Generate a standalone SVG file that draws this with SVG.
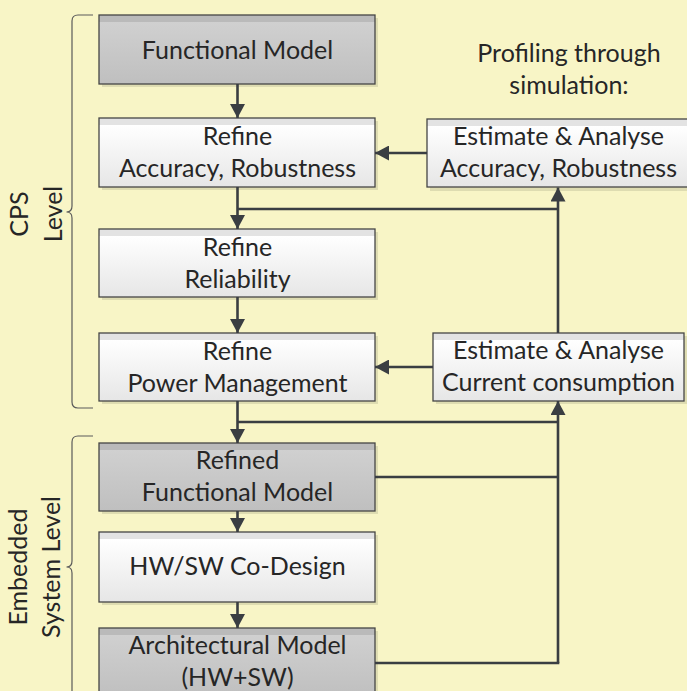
<svg xmlns="http://www.w3.org/2000/svg" width="687" height="691" viewBox="0 0 687 691">
<defs>
<linearGradient id="gw" x1="0" y1="0" x2="0" y2="1">
<stop offset="0" stop-color="#E3E3E3"/><stop offset="0.1" stop-color="#E3E3E3"/><stop offset="0.1" stop-color="#FFFFFF"/><stop offset="1" stop-color="#E6E6E6"/>
</linearGradient>
<linearGradient id="gg" x1="0" y1="0" x2="0" y2="1">
<stop offset="0" stop-color="#BABABA"/><stop offset="0.1" stop-color="#BABABA"/><stop offset="0.1" stop-color="#D0D0D0"/><stop offset="1" stop-color="#BFBFBF"/>
</linearGradient>
<marker id="ah" viewBox="0 0 14 15" refX="14" refY="7.5" markerWidth="14" markerHeight="15" markerUnits="userSpaceOnUse" orient="auto">
<path d="M0,0 L14,7.5 L0,15 Z" fill="#3A3E42"/>
</marker>
<style>
.box{stroke:#454545;stroke-width:1.3}
.w{fill:url(#gw)}
.g{fill:url(#gg)}
.sh{fill:#000;fill-opacity:0.1}
text{font-family:Lato,"Liberation Sans",sans-serif;font-size:25px;fill:#262626;text-anchor:middle}
.c{fill:none;stroke:#3A3E42;stroke-width:2.6}
.a{marker-end:url(#ah)}
.br{fill:none;stroke:#5A5A5A;stroke-width:1.2}
</style>
</defs>
<rect width="687" height="691" fill="#F8F5C6"/>

<g id="braces">
<path class="br" d="M93,15 H78 Q72,15 72,21 V206 Q72,212 66.5,212 Q72,212 72,218 V402 Q72,408 78,408 H93"/>
<path class="br" d="M93,436 H78 Q72,436 72,442 V561 Q72,567 66.5,567 Q72,567 72,573 V692 Q72,698 78,698 H93"/>
</g>
<g id="labels">
<text transform="translate(28,214) rotate(-90)">CPS</text>
<text transform="translate(62,214) rotate(-90)">Level</text>
<text transform="translate(27,567) rotate(-90)">Embedded</text>
<text transform="translate(60,567) rotate(-90)">System Level</text>
<text x="569" y="61.5">Profiling through</text>
<text x="569" y="93.5">simulation:</text>
</g>

<g id="n1"><rect class="sh" x="102" y="18" width="276" height="69"/><rect class="box g" x="99" y="15" width="276" height="69"/><text x="237.5" y="58.5">Functional Model</text></g>
<g id="n2"><rect class="sh" x="102" y="121" width="276" height="69"/><rect class="box w" x="99" y="118" width="276" height="69"/><text x="237.5" y="145">Refine</text><text x="237.5" y="177">Accuracy, Robustness</text></g>
<g id="n3"><rect class="sh" x="102" y="232" width="276" height="68"/><rect class="box w" x="99" y="229" width="276" height="68"/><text x="237.5" y="255.5">Refine</text><text x="237.5" y="287.5">Reliability</text></g>
<g id="n4"><rect class="sh" x="102" y="336" width="276" height="68"/><rect class="box w" x="99" y="333" width="276" height="68"/><text x="237.5" y="359.5">Refine</text><text x="237.5" y="391.5">Power Management</text></g>
<g id="n5"><rect class="sh" x="102" y="446" width="276" height="68"/><rect class="box g" x="99" y="443" width="276" height="68"/><text x="237.5" y="469">Refined</text><text x="237.5" y="501">Functional Model</text></g>
<g id="n6"><rect class="sh" x="102" y="535" width="276" height="70"/><rect class="box w" x="99" y="532" width="276" height="70"/><text x="237.5" y="575">HW/SW Co-Design</text></g>
<g id="n7"><rect class="sh" x="102" y="631" width="276" height="69"/><rect class="box g" x="99" y="628" width="276" height="69"/><text x="237.5" y="653.5">Architectural Model</text><text x="237.5" y="685.5">(HW+SW)</text></g>
<g id="n8"><rect class="sh" x="430" y="122" width="263" height="69"/><rect class="box w" x="427" y="119" width="263" height="68"/><text x="558.5" y="145">Estimate &amp; Analyse</text><text x="558.5" y="176.5">Accuracy, Robustness</text></g>
<g id="n9"><rect class="sh" x="436" y="336" width="252" height="68"/><rect class="box w" x="433" y="333" width="251" height="68"/><text x="558.5" y="358.5">Estimate &amp; Analyse</text><text x="558.5" y="390.5">Current consumption</text></g>

<g id="connectors">
<path class="c a" d="M237.5,84 V118"/>
<path class="c a" d="M237.5,187 V229"/>
<path class="c" d="M237.5,209 H558"/>
<path class="c a" d="M558,333 V187.5"/>
<path class="c a" d="M427,153 H375"/>
<path class="c a" d="M237.5,297 V333"/>
<path class="c a" d="M433,367 H375"/>
<path class="c a" d="M237.5,401 V443"/>
<path class="c" d="M237.5,422 H558"/>
<path class="c a" d="M558,663 V401"/>
<path class="c" d="M375,477 H558"/>
<path class="c" d="M375,663 H559.3"/>
<path class="c a" d="M237.5,511 V532"/>
<path class="c a" d="M237.5,602 V628"/>
</g>
</svg>
